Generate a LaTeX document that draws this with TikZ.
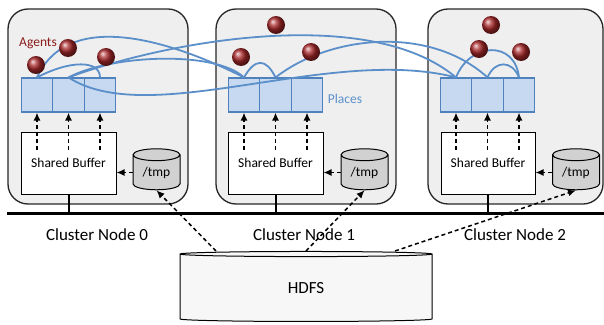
\documentclass[tikz,border=0pt]{standalone}
\usepackage{fontspec}
\setmainfont{Carlito}
\usetikzlibrary{shapes.geometric,arrows.meta}

\definecolor{boxgray}{HTML}{EFEFEF}
\definecolor{placefill}{HTML}{C6D9F0}
\definecolor{placeline}{HTML}{4F81BD}
\definecolor{linkblue}{HTML}{5B8FC9}
\definecolor{agentred}{HTML}{A8282A}
\definecolor{agenttext}{HTML}{8B1A1A}

\tikzset{
  cluster/.style={draw=black!85, line width=1.3pt, fill=boxgray, rounded corners=20pt,
    minimum width=180pt, minimum height=195pt},
  place/.style={draw=placeline, line width=1.1pt, fill=placefill, inner sep=0pt,
    minimum width=31.7pt, minimum height=34pt},
  buffer/.style={draw, line width=1pt, fill=white, minimum width=95pt, minimum height=62pt,
    font=\fontsize{13.5}{15}\selectfont},
  disk/.style={draw, line width=1pt, cylinder, shape border rotate=90, aspect=0.43,
    fill=black!18, minimum width=47pt, minimum height=41pt, inner sep=0pt,
    font=\fontsize{13.5}{15}\selectfont},
  agent/.style={circle, minimum size=18pt, inner sep=0pt, shading=ball, ball color=agentred},
  link/.style={draw=linkblue, line width=1.8pt},
  dasharrow/.style={line width=1.5pt, dash pattern=on 4pt off 3pt, -{Latex[length=8pt,width=7pt]}},
  clabel/.style={font=\fontsize{17}{20}\selectfont}
}

\begin{document}
\begin{tikzpicture}[x=1pt,y=-1pt]
  \useasboundingbox (0,0) rectangle (604,324);

  \node[cluster] (cn0) at (98,106.5) {};
  \node[cluster] (cn1) at (306,106.5) {};
  \node[cluster, minimum width=175pt] (cn2) at (515.5,106.5) {};

  \node[place] (p00) at (37,95) {};
  \node[place] (p01) at (68.5,95) {};
  \node[place] (p02) at (100,95) {};
  \node[place] (p10) at (244,95) {};
  \node[place] (p11) at (275.5,95) {};
  \node[place] (p12) at (307,95) {};
  \node[place] (p20) at (456,95) {};
  \node[place] (p21) at (487.5,95) {};
  \node[place] (p22) at (519,95) {};
  \node[text=linkblue, font=\fontsize{13.5}{15}\selectfont] (plc) at (345,99) {Places};

  \draw[link] (p00.north) .. controls (70,60) and (100,60) .. (p02.north);
  \draw[link] (p00.north) .. controls (70,5) and (180,45) .. (p10.north);
  \draw[link] (p01.north) .. controls (170,40) and (370,5) .. (p20.north);
  \draw[link] (p01.north) .. controls (110,55) and (215,50) .. (p10.north);
  \draw[link] (p01.north) .. controls (150,130) and (330,45) .. (p20.north);
  \draw[link] (p10.north) .. controls (255,58) and (266,58) .. (p11.north);
  \draw[link] (p11.north) .. controls (330,35) and (430,25) .. (p21.north);
  \draw[link] (p20.north) .. controls (470,42) and (515,40) .. (p22.north);
  \draw[link] (p21.north) .. controls (495,60) and (512,60) .. (p22.north);

  \node[text=agenttext, font=\fontsize{13.5}{15}\selectfont] (agt) at (38,43) {Agents};
  \node[agent] (a00) at (36,65) {};
  \node[agent] (a01) at (68,48) {};
  \node[agent] (a02) at (106,57) {};
  \node[agent] (a10) at (241,57) {};
  \node[agent] (a11) at (276,25) {};
  \node[agent] (a12) at (311,52) {};
  \node[agent] (a20) at (491,25) {};
  \node[agent] (a21) at (479,49) {};
  \node[agent] (a22) at (521,52) {};

  \node[buffer] (buf0) at (68.5,163) {Shared Buffer};
  \node[buffer] (buf1) at (275.5,163) {Shared Buffer};
  \node[buffer, minimum width=94pt] (buf2) at (488,163) {Shared Buffer};

  \node[disk] (tmp0) at (156.5,172.5) {\raisebox{-3pt}{/tmp}};
  \node[disk] (tmp1) at (364.5,172.5) {\raisebox{-3pt}{/tmp}};
  \node[disk] (tmp2) at (576,172.5) {\raisebox{-3pt}{/tmp}};

  \draw[dasharrow] ([yshift=-18pt]buf0.north -| p00) -- (p00.south);
  \draw[dasharrow] ([yshift=-18pt]buf0.north -| p01) -- (p01.south);
  \draw[dasharrow] ([yshift=-18pt]buf0.north -| p02) -- (p02.south);
  \draw[dasharrow] ([yshift=-18pt]buf1.north -| p10) -- (p10.south);
  \draw[dasharrow] ([yshift=-18pt]buf1.north -| p11) -- (p11.south);
  \draw[dasharrow] ([yshift=-18pt]buf1.north -| p12) -- (p12.south);
  \draw[dasharrow] ([yshift=-18pt]buf2.north -| p20) -- (p20.south);
  \draw[dasharrow] ([yshift=-18pt]buf2.north -| p21) -- (p21.south);
  \draw[dasharrow] ([yshift=-18pt]buf2.north -| p22) -- (p22.south);

  \draw[dasharrow] (tmp0.west) -- (tmp0.west -| buf0.east);
  \draw[dasharrow] (tmp1.west) -- (tmp1.west -| buf1.east);
  \draw[dasharrow] (tmp2.west) -- (tmp2.west -| buf2.east);

  \coordinate (busL) at (7,213);
  \coordinate (busR) at (604,213);
  \draw[line width=3pt] (busL) -- (busR);
  \draw[line width=2pt] (buf0.south) -- (buf0.south |- busL);
  \draw[line width=2pt] (buf1.south) -- (buf1.south |- busL);
  \draw[line width=2pt] (buf2.south) -- (buf2.south |- busL);

  \node[clabel] (lbl0) at (97,235) {Cluster Node 0};
  \node[clabel] (lbl1) at (304,235) {Cluster Node 1};
  \node[clabel] (lbl2) at (515,235) {Cluster Node 2};

  \node[disk, minimum width=252pt, minimum height=70pt, aspect=0.14, fill=black!3,
    font=\fontsize{17}{20}\selectfont] (hdfs) at (306,288) {\raisebox{-7pt}{HDFS}};

  \draw[dasharrow] ([xshift=-90pt]hdfs.north) -- (tmp0.south);
  \draw[dasharrow] (hdfs.north) -- (tmp1.south);
  \draw[dasharrow] ([xshift=89pt]hdfs.north) -- (tmp2.south);
\end{tikzpicture}
\end{document}
